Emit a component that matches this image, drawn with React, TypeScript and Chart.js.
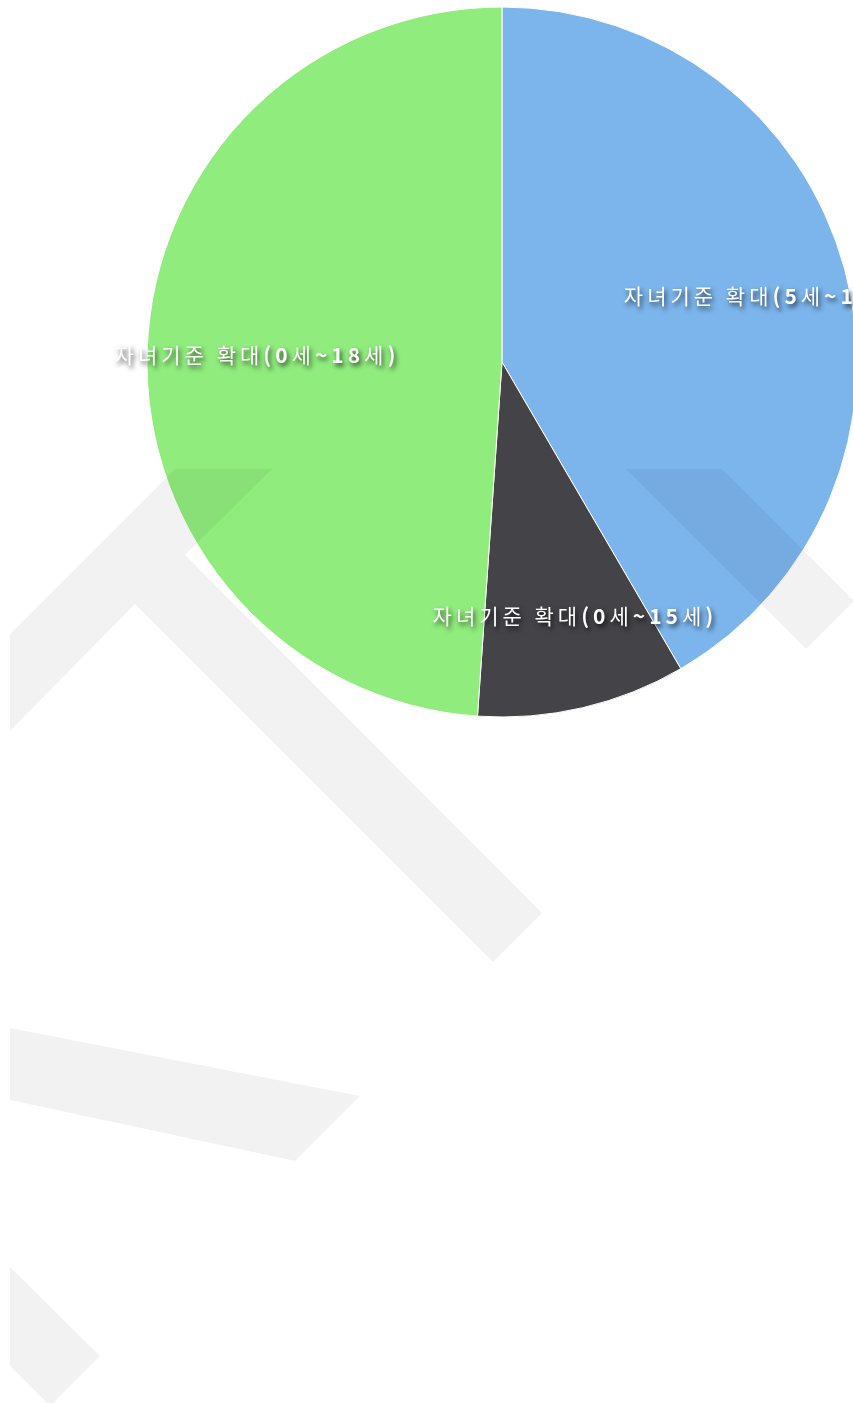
import React, { useEffect, useRef } from 'react';
import { Chart, registerables } from 'chart.js';

Chart.register(...registerables);

// ---- data ----
const categories: string[] = [
  '자녀기준 확대(5세~18세)',
  '자녀기준 확대(0세~15세)',
  '자녀기준 확대(0세~18세)',
];
const shares: number[] = [41.6, 9.5, 48.9];
const sliceColors: string[] = ['#7cb5ec', '#434348', '#90ed7d'];

// ---- decoration (background watermark) ----
const watermarkShapes: number[][][] = [
  [[10, 634], [175, 469], [272, 469], [185, 555], [542, 913], [493, 962], [135, 604], [10, 731]],
  [[626, 469], [722, 469], [854, 601], [806, 649]],
  [[10, 1028], [360, 1096], [295, 1161], [10, 1100]],
  [[10, 1267], [100, 1356], [50, 1406], [10, 1366]],
];

const CANVAS_W = 1004;
const CANVAS_H = 1403;
const LABEL_FONT_SIZE = 21;
const LABEL_SPACING = 4;
const LABEL_RADIUS = 0.73;
const LABEL_SHIFT_X = 14;
const LABEL_BASELINE_SHIFT = 9.7;

function isHangul(ch: string) {
  const c = ch.charCodeAt(0);
  return (c >= 0xac00 && c <= 0xd7a3) || (c >= 0x3130 && c <= 0x318f);
}

function splitRuns(text: string) {
  const runs: { t: string; h: boolean }[] = [];
  for (const ch of Array.from(text)) {
    const h = isHangul(ch) || ch === ' ';
    const last = runs[runs.length - 1];
    if (last && last.h === h) last.t += ch;
    else runs.push({ t: ch, h });
  }
  return runs;
}

const fontFor = (h: boolean) =>
  `${h ? 'normal' : 'bold'} ${LABEL_FONT_SIZE}px "Noto Sans CJK KR", "Noto Sans", sans-serif`;

const overlayPlugin = {
  id: 'overlay',
  afterDatasetsDraw(chart: any) {
    const ctx: CanvasRenderingContext2D = chart.ctx;
    // watermark
    ctx.save();
    ctx.beginPath();
    ctx.rect(10, 0, chart.width - 10, chart.height);
    ctx.clip();
    ctx.fillStyle = 'rgba(0,0,0,0.05)';
    for (const shape of watermarkShapes) {
      ctx.beginPath();
      shape.forEach(([x, y], i) => (i === 0 ? ctx.moveTo(x, y) : ctx.lineTo(x, y)));
      ctx.closePath();
      ctx.fill();
    }
    ctx.restore();

    // data labels
    const meta = chart.getDatasetMeta(0);
    const labels: string[] = chart.data.labels;
    meta.data.forEach((arc: any, i: number) => {
      const { x, y, startAngle, endAngle, outerRadius } = arc.getProps(
        ['x', 'y', 'startAngle', 'endAngle', 'outerRadius'],
        true
      );
      const mid = (startAngle + endAngle) / 2;
      const r = outerRadius * LABEL_RADIUS;
      const lx = x + Math.cos(mid) * r + LABEL_SHIFT_X;
      const ly = y + Math.sin(mid) * r + LABEL_BASELINE_SHIFT;
      const runs = splitRuns(labels[i]);
      ctx.save();
      (ctx as any).letterSpacing = `${LABEL_SPACING}px`;
      let total = 0;
      const widths = runs.map((run) => {
        ctx.font = fontFor(run.h);
        const w = ctx.measureText(run.t).width;
        total += w;
        return w;
      });
      let cx = lx - total / 2;
      ctx.textAlign = 'left';
      ctx.textBaseline = 'alphabetic';
      ctx.fillStyle = '#ffffff';
      ctx.shadowColor = 'rgba(0,0,0,0.75)';
      ctx.shadowOffsetX = 2;
      ctx.shadowOffsetY = 3;
      ctx.shadowBlur = 5;
      runs.forEach((run, k) => {
        ctx.font = fontFor(run.h);
        ctx.fillText(run.t, cx, ly);
        cx += widths[k];
      });
      ctx.restore();
    });
  },
};

export default function App() {
  const ref = useRef<HTMLCanvasElement | null>(null);

  useEffect(() => {
    if (!ref.current) return;
    const chart = new Chart(ref.current, {
      type: 'pie',
      data: {
        labels: categories,
        datasets: [
          {
            data: shares,
            backgroundColor: sliceColors,
            borderColor: '#ffffff',
            borderWidth: 1,
            hoverOffset: 0,
          },
        ],
      },
      options: {
        responsive: false,
        animation: false,
        devicePixelRatio: 1,
        layout: { padding: { top: 6.5, bottom: CANVAS_H - 6.5 - 711, left: 0, right: 0 } },
        plugins: {
          legend: { display: false },
          tooltip: { enabled: false },
          title: { display: false },
        },
        events: [],
      },
      plugins: [overlayPlugin],
    });
    return () => chart.destroy();
  }, []);

  return (
    <div
      style={{
        position: 'fixed',
        left: 0,
        top: 0,
        width: 853,
        height: 1403,
        overflow: 'hidden',
        background: '#ffffff',
      }}
    >
      <canvas
        ref={ref}
        width={CANVAS_W}
        height={CANVAS_H}
        style={{ position: 'absolute', left: 0, top: 0, width: CANVAS_W, height: CANVAS_H }}
      />
    </div>
  );
}
